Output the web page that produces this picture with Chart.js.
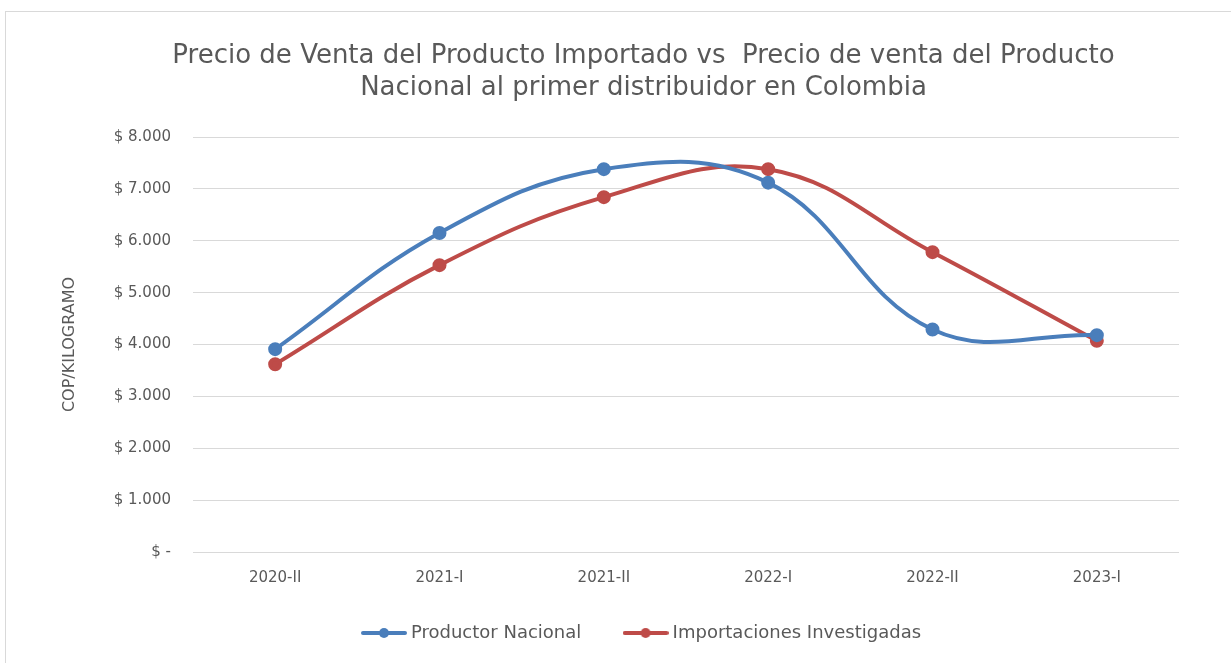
<!DOCTYPE html>
<html>
<head>
<meta charset="utf-8">
<script src="https://cdn.jsdelivr.net/npm/chart.js@4"></script>
<style>
  html, body { margin: 0; padding: 0; background: #fff; }
  #frame { position: absolute; left: 5px; top: 11px; width: 1240px; height: 670px;
           border-left: 1px solid #d9d9d9; border-top: 1px solid #d9d9d9; }
  #wrap { position: absolute; left: 0; top: 0; width: 1231px; height: 663px; }
</style>
</head>
<body>
<div id="frame"></div>
<div id="wrap"><canvas id="lineChart" width="1231" height="663"></canvas></div>
<script>
var periods = ['2020-II', '2021-I', '2021-II', '2022-I', '2022-II', '2023-I'];
var productorNacional = [3910, 6150, 7380, 7120, 4290, 4180];
var importaciones = [3620, 5530, 6840, 7380, 5780, 4070];
var yTickLabels = ['$ -', '$ 1.000', '$ 2.000', '$ 3.000', '$ 4.000', '$ 5.000', '$ 6.000', '$ 7.000', '$ 8.000'];

var grey = '#595959';
var blue = '#4a7ebb';
var red = '#be4b48';
var fam = 'DejaVu Sans';

// line-with-dot swatch for the legend
function swatch(color) {
  var c = document.createElement('canvas');
  c.width = 46; c.height = 12;
  var x = c.getContext('2d');
  x.strokeStyle = color; x.lineWidth = 4; x.lineCap = 'round';
  x.beginPath(); x.moveTo(2, 6); x.lineTo(44, 6); x.stroke();
  x.fillStyle = color;
  x.beginPath(); x.arc(23, 6, 5, 0, Math.PI * 2); x.fill();
  return c;
}
var swatches = [swatch(blue), swatch(red)];

var ctx = document.getElementById('lineChart').getContext('2d');
var lineChart = new Chart(ctx, {
  type: 'line',
  data: {
    labels: periods,
    datasets: [{
      label: 'Productor Nacional',
      data: productorNacional,
      borderColor: blue,
      backgroundColor: blue,
      borderWidth: 4,
      pointRadius: 5,
      tension: 0.4,
      fill: false
    }, {
      label: 'Importaciones Investigadas',
      data: importaciones,
      borderColor: red,
      backgroundColor: red,
      borderWidth: 4,
      pointRadius: 5,
      tension: 0.4,
      fill: false
    }]
  },
  options: {
    responsive: false,
    animation: false,
    layout: { padding: { left: 108, right: 52, top: 0, bottom: 11 } },
    plugins: {
      title: {
        display: true,
        text: ['Precio de Venta del Producto Importado vs  Precio de venta del Producto',
               'Nacional al primer distribuidor en Colombia'],
        color: grey,
        font: { family: fam, size: 26, weight: 'normal', lineHeight: '32px' },
        padding: { top: 40, bottom: 33 }
      },
      legend: {
        position: 'bottom',
        labels: {
          usePointStyle: true,
          pointStyleWidth: 36,
          color: grey,
          font: { family: fam, size: 18 },
          padding: 12,
          generateLabels: function (chart) {
            return chart.data.datasets.map(function (ds, i) {
              // trailing spaces only widen the gap between the two entries
              var txt = i === 0 ? ds.label + '      ' : ds.label;
              return {
                text: txt,
                pointStyle: swatches[i],
                fillStyle: ds.borderColor,
                strokeStyle: ds.borderColor,
                lineWidth: 0,
                fontColor: grey,
                datasetIndex: i
              };
            });
          }
        }
      },
      tooltip: { enabled: false }
    },
    scales: {
      x: {
        offset: true,
        grid: { display: false, drawTicks: false },
        border: { display: false },
        ticks: { color: grey, font: { family: fam, size: 15 }, padding: 17 },
        afterFit: function (s) { s.height = 60; }
      },
      y: {
        min: 0,
        max: 8000,
        ticks: {
          stepSize: 1000,
          color: grey,
          padding: 22,
          font: { family: fam, size: 15 },
          callback: function (v) { return yTickLabels[v / 1000]; }
        },
        grid: { color: '#d9d9d9', drawTicks: false },
        border: { display: false },
        title: {
          display: true,
          text: 'COP/KILOGRAMO',
          color: grey,
          font: { family: fam, size: 16 },
          padding: { top: -48 }
        },
        afterFit: function (s) { s.width = 85; }
      }
    }
  }
});
</script>
</body>
</html>
